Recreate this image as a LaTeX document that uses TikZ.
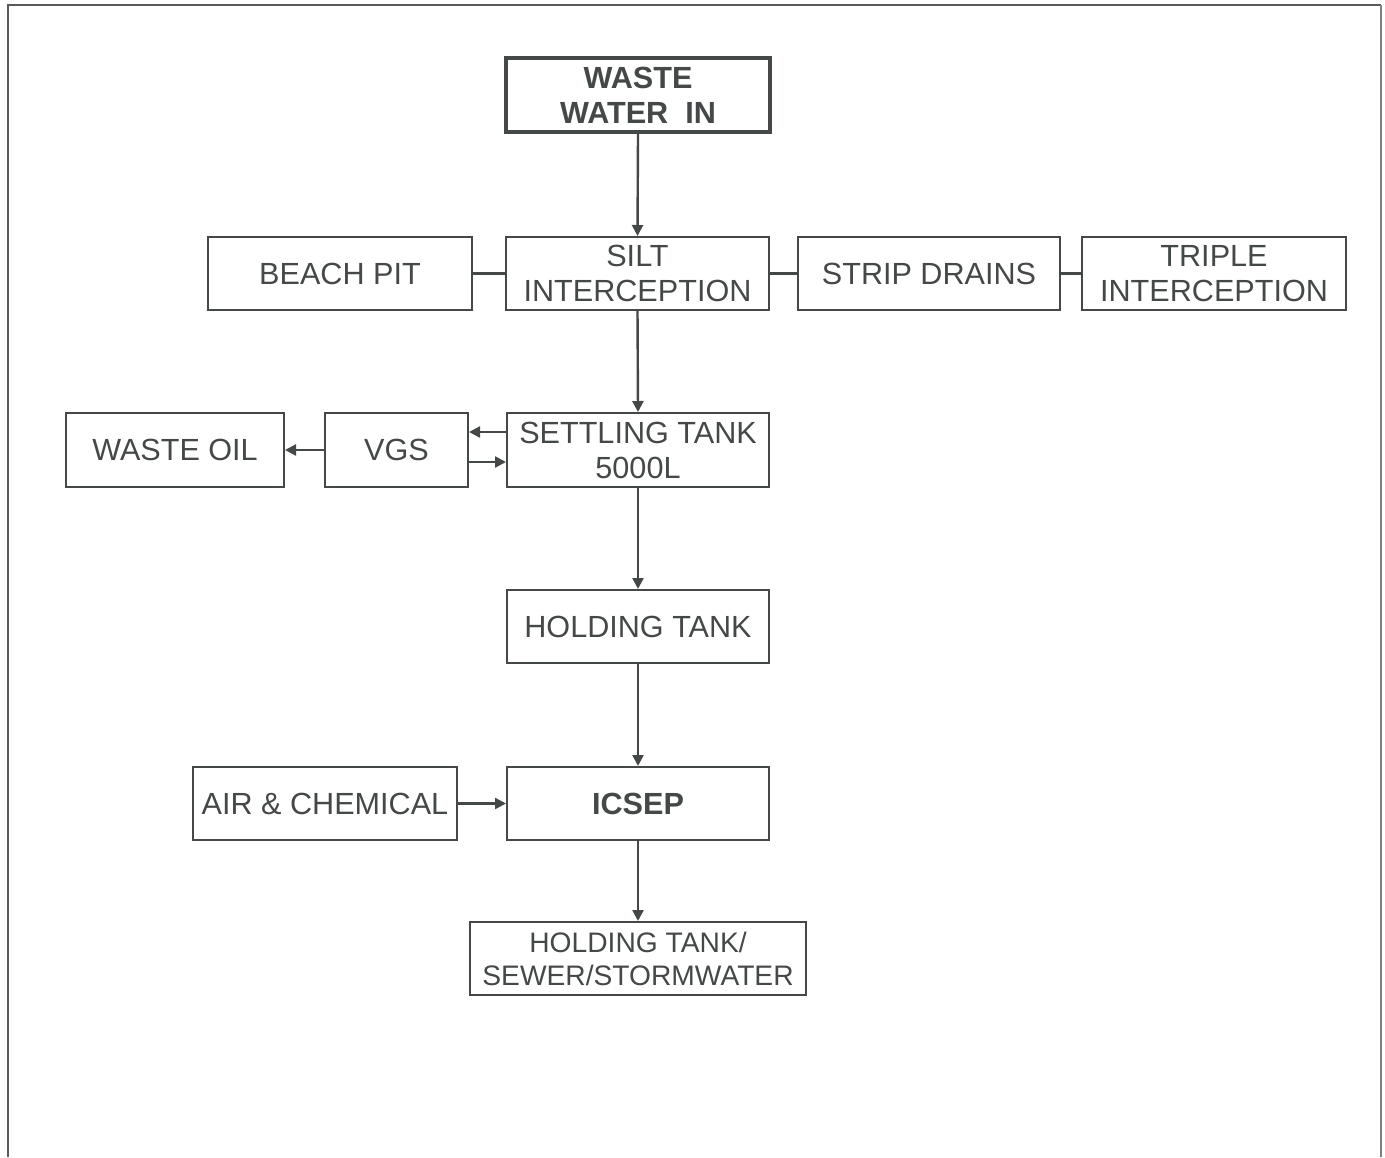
\documentclass[tikz,border=0pt]{standalone}
\usepackage{fontspec}
\setmainfont{Liberation Sans}
\usetikzlibrary{arrows.meta}
\definecolor{ink}{HTML}{454848}
\begin{document}
\begin{tikzpicture}[x=0.5pt,y=-0.5pt,
  box/.style={draw=ink,line width=1pt,text=ink,inner sep=0pt,align=center,
    font=\fontsize{15.3}{17.5}\selectfont},
  conn/.style={draw=ink,line width=1.2pt},
  arr/.style={conn,-{Triangle[length=5.5pt,width=5.5pt]}}]
\useasboundingbox (0,0) rectangle (1385,1157);
\draw[line width=1.2pt,draw=ink!90] (8,1157) -- (8,5) -- (1381,5);
\draw[line width=1.2pt,draw=gray] (1381,5) -- (1381,1157);
% boxes: centre, width, height in pixels
\newcommand{\bx}[6]{\node[box,#6,minimum width=#3*0.5pt-1pt,minimum height=#4*0.5pt-1pt] (#1) at (#2) {#5};}
\bx{wwi}{638,95}{266}{76}{\textbf{WASTE}\\\textbf{WATER\ \ IN}}{line width=1.6pt}
\bx{silt}{637.5,273.5}{265}{75}{SILT\\INTERCEPTION}{}
\bx{beach}{340,273.5}{266}{75}{BEACH PIT}{}
\bx{strip}{929,273.5}{264}{75}{STRIP DRAINS}{}
\bx{triple}{1214,273.5}{266}{75}{TRIPLE\\INTERCEPTION}{}
\bx{settle}{638,450}{264}{76}{SETTLING TANK\\5000L}{}
\bx{vgs}{396.5,450}{145}{76}{VGS}{}
\bx{oil}{175,450}{220}{76}{WASTE OIL}{}
\bx{hold}{638,626.5}{264}{75}{HOLDING TANK}{}
\bx{icsep}{638,803.5}{264}{75}{\textbf{ICSEP}}{}
\bx{air}{325,803.5}{266}{75}{AIR \& CHEMICAL}{}
\bx{out}{638,958.5}{338}{75}{HOLDING TANK/\\SEWER/STORMWATER}{font=\fontsize{14.1}{16.5}\selectfont}
% connectors
\draw[arr] (wwi.south) -- (silt.north);
\draw[arr] (silt.south) -- (settle.north);
\draw[arr] (settle.south) -- (hold.north);
\draw[arr] (hold.south) -- (icsep.north);
\draw[arr] (icsep.south) -- (out.north);
\draw[conn] (beach.east) -- (silt.west);
\draw[conn] (silt.east) -- (strip.west);
\draw[conn] (strip.east) -- (triple.west);
\draw[arr] (settle.west |- 0,432) -- (vgs.east |- 0,432);
\draw[arr] (vgs.east |- 0,462) -- (settle.west |- 0,462);
\draw[arr] (vgs.west) -- (oil.east);
\draw[arr] (air.east) -- (icsep.west);
\end{tikzpicture}
\end{document}
